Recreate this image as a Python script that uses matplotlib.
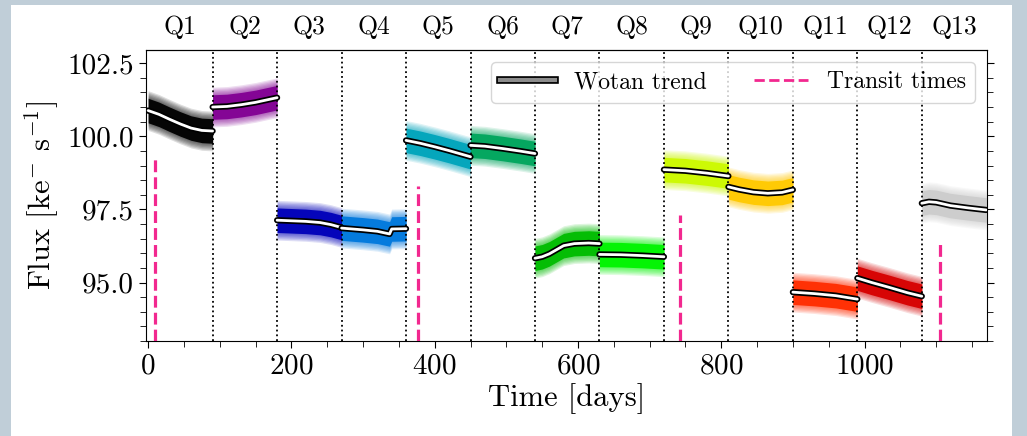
import numpy as np
import matplotlib.pyplot as plt
import matplotlib.patheffects as pe
from matplotlib.lines import Line2D
from matplotlib.patches import Rectangle
from matplotlib.ticker import MultipleLocator

plt.rcParams['font.family'] = 'serif'
plt.rcParams['font.serif'] = ['cmr10']
plt.rcParams['mathtext.fontset'] = 'cm'
plt.rcParams['axes.formatter.use_mathtext'] = True
plt.rcParams['axes.unicode_minus'] = False

# quarter labels and boundaries [days]
quarters = ['Q1', 'Q2', 'Q3', 'Q4', 'Q5', 'Q6', 'Q7', 'Q8', 'Q9', 'Q10', 'Q11', 'Q12', 'Q13']
q_edges = [0, 90, 180, 270, 360, 450, 540, 630, 720, 810, 900, 990, 1080, 1170]

# Wotan trend (time knots / flux per quarter)
trend_t = [
    [0, 15, 30, 45, 60, 75, 90],
    [90, 110, 130, 150, 165, 180],
    [180, 200, 220, 240, 255, 270],
    [270, 300, 320, 337, 340, 360],
    [360, 380, 400, 420, 450],
    [450, 470, 495, 520, 540],
    [540, 550, 560, 570, 580, 595, 615, 630],
    [630, 660, 690, 720],
    [720, 750, 780, 810],
    [810, 825, 845, 865, 885, 900],
    [900, 930, 960, 990],
    [990, 1010, 1035, 1060, 1080],
    [1080, 1090, 1100, 1120, 1145, 1170],
]
trend_f = [
    [100.88, 100.75, 100.58, 100.42, 100.28, 100.20, 100.18],
    [101.00, 101.02, 101.08, 101.16, 101.24, 101.32],
    [97.13, 97.11, 97.09, 97.05, 96.98, 96.88],
    [96.86, 96.80, 96.75, 96.66, 96.83, 96.84],
    [99.86, 99.76, 99.64, 99.51, 99.30],
    [99.69, 99.66, 99.58, 99.49, 99.41],
    [95.83, 95.88, 95.98, 96.12, 96.26, 96.33, 96.35, 96.33],
    [95.96, 95.95, 95.92, 95.88],
    [98.86, 98.82, 98.74, 98.64],
    [98.27, 98.18, 98.09, 98.05, 98.08, 98.17],
    [94.67, 94.62, 94.55, 94.43],
    [95.15, 95.00, 94.83, 94.65, 94.53],
    [97.71, 97.76, 97.74, 97.63, 97.55, 97.48],
]

# spread of the flux points around the trend (dense core, sparse fringe)
core_width = 0.42
outer_width = 0.68

# transit times and the height of their markers
transit_t = [9.2, 376.8, 741.8, 1105.6]
transit_top = [99.3, 98.3, 97.3, 96.3]

colors = plt.cm.nipy_spectral(np.linspace(0, 1, len(quarters)))

fig = plt.figure(figsize=(10.27, 4.36), dpi=100, facecolor='#c0ced8')
fig.patches.append(Rectangle((11 / 1027, 0), 1001 / 1027, 431 / 436,
                             transform=fig.transFigure, facecolor='white',
                             edgecolor='none', zorder=-10))
ax = fig.add_axes([146 / 1027, 1 - 341 / 436, 841 / 1027, 291 / 436])
ax.set_xlim(-3, 1171)
ax.set_ylim(93.0, 102.95)

stroke = [pe.Stroke(linewidth=4.5, foreground='black'), pe.Normal()]
fringe = np.linspace(outer_width, core_width, 7)
for i in range(len(quarters)):
    t = np.array(trend_t[i])
    f = np.array(trend_f[i])
    c = colors[i]
    # soft fringe made of thin translucent layers
    for w in fringe[:-1]:
        ax.fill_between(t, f - w, f + w, color=c, alpha=0.13, lw=0)
    ax.fill_between(t, f - core_width, f + core_width, color=c, alpha=0.95, lw=0)
    ax.plot(t, f, color='white', lw=2, path_effects=stroke, zorder=5,
            solid_capstyle='round')

for e in q_edges[1:-1]:
    ax.axvline(e, color='black', ls=':', lw=1.3, zorder=3)

ax.vlines(transit_t, 93.0, transit_top, color='#f2288f', ls='--', lw=2.3, zorder=4)

ax.xaxis.set_major_locator(MultipleLocator(200))
ax.xaxis.set_minor_locator(MultipleLocator(50))
ax.yaxis.set_major_locator(MultipleLocator(2.5))
ax.yaxis.set_minor_locator(MultipleLocator(0.5))
ax.yaxis.set_major_formatter(plt.FormatStrFormatter('%.1f'))
ax.tick_params(which='both', direction='out', right=True, top=False, labelsize=21)
ax.tick_params(which='major', length=5)
ax.tick_params(which='minor', length=4)
ax.set_xlabel('Time [days]', fontsize=22, labelpad=3)
ax.set_ylabel(r'Flux [ke$^{-}$ s$^{-1}$]', fontsize=22, labelpad=5)

centers = [(a + b) / 2 for a, b in zip(q_edges[:-1], q_edges[1:])]
top = ax.secondary_xaxis('top')
top.set_xticks(centers, quarters)
top.tick_params(length=0, labelsize=18.5, pad=8)

handles = [
    Line2D([], [], color='0.55', lw=3, path_effects=[pe.Stroke(linewidth=5.5, foreground='black'), pe.Normal()]),
    Line2D([], [], color='#f2288f', ls='--', lw=2),
]
ax.legend(handles, ['Wotan trend', 'Transit times'], loc='upper right', ncol=2,
          fontsize=17, handlelength=2.3, columnspacing=2.0)

fig.savefig('out.png', dpi=100, facecolor=fig.get_facecolor())
